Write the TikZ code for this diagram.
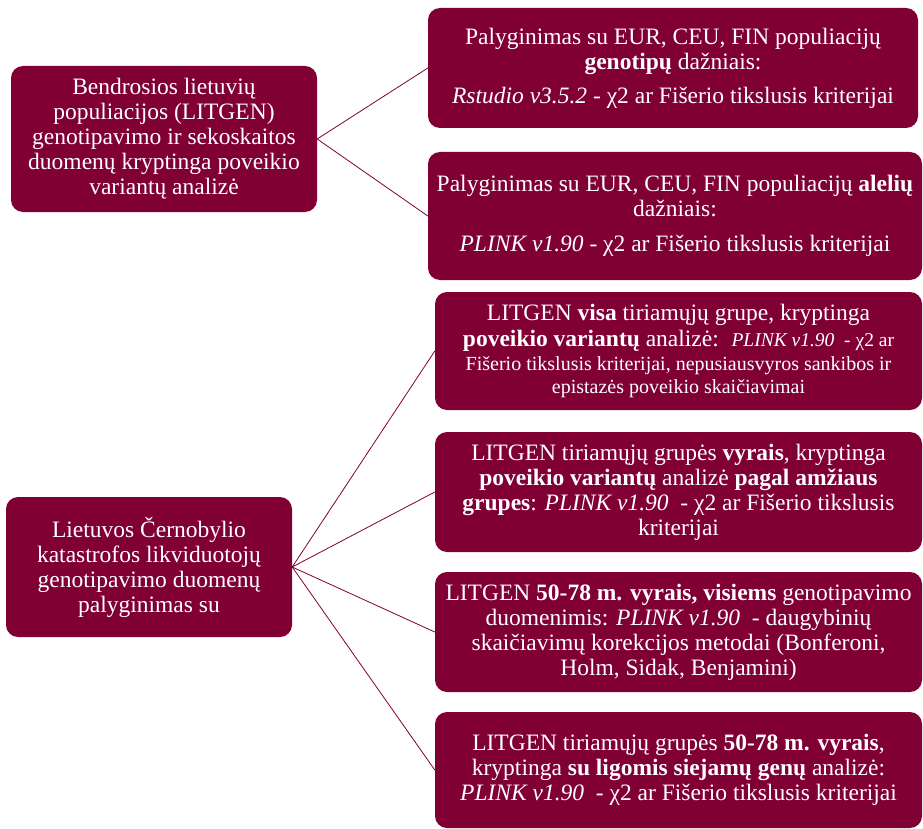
\documentclass[tikz,border=0pt]{standalone}
\usepackage{fontspec}
\setmainfont{Liberation Serif}
\definecolor{maroon}{RGB}{128,0,52}
\begin{document}
\begin{tikzpicture}[x=1pt,y=-1pt,
  box/.style={draw=none,fill=maroon,rounded corners=12pt,text=white,align=center,
    font=\fontsize{23.5}{25}\selectfont,inner sep=0pt},
  link/.style={draw=maroon,line width=0.8pt}]
\useasboundingbox (0,0) rectangle (923,829);
% left boxes
\node[box,minimum width=306,minimum height=146] (L1) at (164,139)
 {Bendrosios lietuvių\\populiacijos (LITGEN)\\genotipavimo ir sekoskaitos\\duomenų kryptinga poveikio\\variantų analizė};
\node[box,minimum width=286,minimum height=140] (L2) at (149,567)
 {Lietuvos Černobylio\\katastrofos likviduotojų\\genotipavimo duomenų\\palyginimas su};
% right boxes
\node[box,minimum width=490,minimum height=120] (R1) at (673,68)
 {Palyginimas su EUR, CEU, FIN populiacijų\\\textbf{genotipų} dažniais:\\[9pt]\textit{Rstudio v3.5.2 -} χ2 ar Fišerio tikslusis kriterijai};
\node[box,minimum width=494,minimum height=128] (R2) at (675,216)
 {Palyginimas su EUR, CEU, FIN populiacijų \textbf{alelių}\\dažniais:\\[10pt]\textit{PLINK v1.90 -} χ2 ar Fišerio tikslusis kriterijai};
\node[box,minimum width=487,minimum height=118] (R3) at (678.5,351)
 {LITGEN \textbf{visa} tiriamųjų grupe, kryptinga\\[1pt]\textbf{poveikio variantų} analizė: {\fontsize{19.5}{22}\selectfont\ \textit{PLINK v1.90\ \ -} χ2 ar}\\[-1pt]
 {\fontsize{20}{23}\selectfont Fišerio tikslusis kriterijai, nepusiausvyros sankibos ir}\\[-2pt]
 {\fontsize{20}{23}\selectfont epistazės poveikio skaičiavimai}};
\node[box,minimum width=487,minimum height=120] (R4) at (678.5,492)
 {LITGEN tiriamųjų grupės \textbf{vyrais}, kryptinga\\\textbf{poveikio variantų} analizė \textbf{pagal amžiaus}\\\textbf{grupes}: \textit{PLINK v1.90\ \ -} χ2 ar Fišerio tikslusis\\kriterijai};
\node[box,minimum width=487,minimum height=120] (R5) at (678.5,632)
 {LITGEN \textbf{50-78 m. vyrais, visiems} genotipavimo\\duomenimis: \textit{PLINK v1.90}\ \ - daugybinių\\skaičiavimų korekcijos metodai (Bonferoni,\\Holm, Sidak, Benjamini)};
\node[box,minimum width=487,minimum height=116] (R6) at (678.5,770)
 {LITGEN tiriamųjų grupės \textbf{50-78 m. vyrais},\\kryptinga \textbf{su ligomis siejamų genų} analizė:\\\textit{PLINK v1.90\ \ -} χ2 ar Fišerio tikslusis kriterijai};
% connectors
\draw[link] (L1.east) -- (R1.west);
\draw[link] (L1.east) -- (R2.west);
\draw[link] (L2.east) -- (R3.west);
\draw[link] (L2.east) -- (R4.west);
\draw[link] (L2.east) -- (R5.west);
\draw[link] (L2.east) -- (R6.west);
\end{tikzpicture}
\end{document}
